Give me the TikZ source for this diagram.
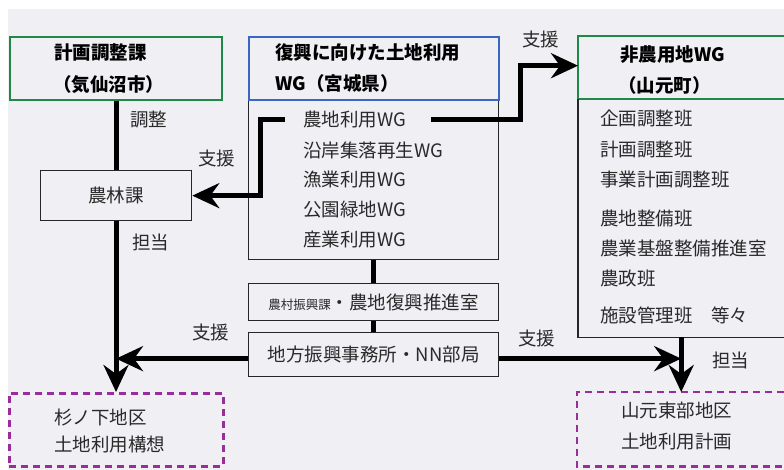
\documentclass[tikz,border=0pt]{standalone}
\usepackage{fontspec}
\newfontfamily\jp{Noto Sans CJK JP}
\usetikzlibrary{arrows.meta}
\definecolor{bg}{HTML}{EFEFF4}
\definecolor{grn}{HTML}{1F8A48}
\definecolor{blu}{HTML}{3A66C4}
\definecolor{pur}{HTML}{9A2D9C}
\definecolor{txt}{HTML}{2A2A2A}
\begin{document}
\begin{tikzpicture}[x=1pt,y=-1pt,
  lbl/.style={inner sep=0pt, anchor=west, font=\jp\fontsize{18.5}{18.5}\selectfont, text=txt},
  hdr/.style={inner sep=0pt, anchor=west, font=\jp\bfseries\fontsize{18.5}{18.5}\selectfont, text=black},
  frame/.style={inner sep=0pt, anchor=north west},
  box/.style={frame, draw=black!85, line width=1.3pt, font=\jp\fontsize{18.5}{18.5}\selectfont, text=txt},
  gbox/.style={draw=grn, line width=2pt},
  dbox/.style={draw=pur, line width=2.5pt, dash pattern=on 7pt off 5pt},
  conn/.style={line width=5pt},
  arr/.style={conn, -{Stealth[length=27pt,width=25pt,inset=9pt]}},
]
\useasboundingbox (0,0) rectangle (784,470);
\fill[white] (0,0) rectangle (784,470);
\fill[bg] (8,9) rectangle (784,470);

% boxes
\node[frame, minimum width=212pt, minimum height=63pt, gbox] (keikaku) at (9,36) {};
\node[frame, minimum width=250pt, minimum height=160pt, draw=black!85, line width=1.3pt] (list) at (248,99) {};
\node[frame, minimum width=250pt, minimum height=63pt, draw=blu, line width=1.6pt] (fukko) at (248,36) {};
\node[frame, minimum width=206pt, minimum height=63pt] (nonag) at (578,36) {};
\draw[gbox] (nonag.north east) -- (nonag.north west) -- (nonag.south west) -- (nonag.south east);
\node[frame, minimum width=206pt, minimum height=238pt] (rlist) at (578,99) {};
\draw[draw=black!85, line width=1.3pt] (rlist.north west) -- (rlist.south west) -- (rlist.south east);
\node[box, minimum width=151pt, minimum height=50pt] (norin) at (40,170) {農林課};
\node[box, minimum width=250pt, minimum height=37pt] (noson) at (248,283) {{\fontsize{12.5}{12.5}\selectfont 農村振興課}・農地復興推進室};
\node[box, minimum width=250pt, minimum height=44pt] (chiho) at (248,332) {地方振興事務所・NN部局};
\node[frame, minimum width=214pt, minimum height=73pt, dbox] (sugi) at (8,392) {};
\node[frame, minimum width=207pt, minimum height=74pt] (yama) at (577,392) {};
\draw[dbox] (yama.north east) -- (yama.north west) -- (yama.south west) -- (yama.south east);

% texts
\node[hdr] (t1) at (54,53) {計画調整課};
\node[hdr] (t2) at (53,85) {（気仙沼市）};
\node[hdr] (t3) at (275,53) {復興に向けた土地利用};
\node[hdr] (t4) at (275,83) {WG（宮城県）};
\node[hdr] (t5) at (620,55) {非農用地WG};
\node[hdr] (t6) at (618,85) {（山元町）};

\node[lbl] (nochi) at (303,120) {農地利用WG};
\node[lbl] (l2) at (303,150) {沿岸集落再生WG};
\node[lbl] (l3) at (303,180) {漁業利用WG};
\node[lbl] (l4) at (303,210) {公園緑地WG};
\node[lbl] (l5) at (303,240) {産業利用WG};

\node[lbl] (r1) at (600,119) {企画調整班};
\node[lbl] (r2) at (600,150) {計画調整班};
\node[lbl] (r3) at (600,180) {事業計画調整班};
\node[lbl] (r4) at (600,218) {農地整備班};
\node[lbl] (r5) at (600,248) {農業基盤整備推進室};
\node[lbl] (r6) at (600,278) {農政班};
\node[lbl] (r7) at (600,315) {施設管理班　等々};

\node[lbl] (s1) at (54,417) {杉ノ下地区};
\node[lbl] (s2) at (54,445) {土地利用構想};
\node[lbl] (y1) at (621,410) {山元東部地区};
\node[lbl] (y2) at (621,442) {土地利用計画};

% connector labels
\node[lbl] (a1) at (130,120) {調整};
\node[lbl] (a2) at (198,158) {支援};
\node[lbl] (a3) at (132,242) {担当};
\node[lbl] (a4) at (192,332) {支援};
\node[lbl] (a5) at (518,338) {支援};
\node[lbl] (a6) at (522,40) {支援};
\node[lbl] (a7) at (712,360) {担当};

% connectors
\coordinate (turnL) at (260,0);
\coordinate (turnR) at (520,0);
\draw[conn] (keikaku.south) -- (keikaku.south |- norin.north);
\draw[arr] (norin.south -| keikaku.south) -- (sugi.north -| keikaku.south);
\draw[arr] ([xshift=-18pt]nochi.west) -- (nochi.west -| turnL) |- (norin.east);
\draw[arr] ([xshift=25pt]nochi.east) -- (nochi.east -| turnR) |- ([yshift=2pt]nonag.west);
\draw[conn] (list.south) -- (noson.north);
\draw[conn] (noson.south) -- (chiho.north);
\draw[arr] ([yshift=-4pt]chiho.west) -- ([yshift=-4pt]chiho.west -| keikaku.south);
\draw[arr] ([yshift=-4pt]chiho.east) -- ([yshift=-4pt]chiho.east -| rlist.south);
\draw[arr] (rlist.south) -- (rlist.south |- yama.north);
\end{tikzpicture}
\end{document}
